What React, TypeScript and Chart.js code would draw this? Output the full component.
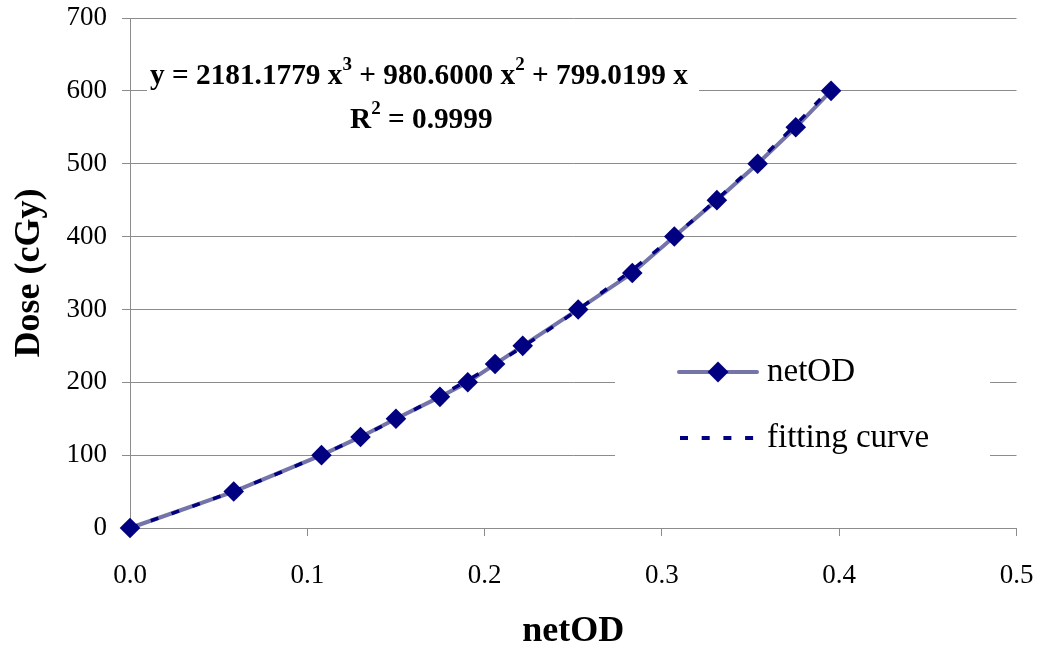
import React, { useEffect, useRef } from 'react';
import { Chart, registerables } from 'chart.js';

Chart.register(...registerables);

// ---- data ----
const netOD = [0, 0.0585, 0.108, 0.13, 0.15, 0.1748, 0.1905, 0.2059, 0.2215, 0.2528, 0.2833, 0.307, 0.331, 0.354, 0.3755, 0.3954];
const dose = [0, 50, 100, 125, 150, 180, 200, 225, 250, 300, 350, 400, 450, 500, 550, 600];
const fitDose = [0, 50.5, 100.5, 125.2, 149.3, 181.3, 202.9, 225.1, 248.8, 299.9, 354.7, 400.8, 451.0, 502.5, 553.8, 604.0];
const yTicks = [0, 100, 200, 300, 400, 500, 600, 700];
const xTicks = [0, 0.1, 0.2, 0.3, 0.4, 0.5];
const eqTerms = ['y = 2181.1779 x', '3', ' + 980.6000 x', '2', ' + 799.0199 x'];
const r2Terms = ['R', '2', ' = 0.9999'];
const legendLabels = ['netOD', 'fitting curve'];
const xTitle = 'netOD';
const yTitle = 'Dose (cGy)';

const SERIF = '"Liberation Serif", "Times New Roman", serif';
const NAVY = '#000080';
const LINE = '#7474aa';
const GRID = '#8c8c8c';

const zeroPad = (s: any) => {
  s.paddingTop = 0;
  s.paddingBottom = 0;
  s.paddingLeft = 0;
  s.paddingRight = 0;
};

export default function App() {
  const ref = useRef<HTMLCanvasElement>(null);

  useEffect(() => {
    document.body.style.margin = '0';
    const canvas = ref.current;
    if (!canvas) return;

    const overlay = {
      id: 'overlay',
      beforeDatasetsDraw(chart: any) {
        const ctx = chart.ctx as CanvasRenderingContext2D;
        ctx.save();
        // white boxes behind equation and legend
        ctx.fillStyle = '#ffffff';
        ctx.fillRect(147, 54, 552, 86);
        ctx.fillRect(615, 332, 375, 166);

        // equation
        ctx.fillStyle = '#000000';
        ctx.textAlign = 'left';
        ctx.textBaseline = 'alphabetic';
        const drawSeq = (parts: string[], x: number, y: number) => {
          let cx = x;
          parts.forEach((p, i) => {
            const sup = i % 2 === 1;
            ctx.font = sup ? `bold 19px ${SERIF}` : `bold 29.3px ${SERIF}`;
            ctx.fillText(p, cx, sup ? y - 14 : y);
            cx += ctx.measureText(p).width;
          });
        };
        drawSeq(eqTerms, 150, 84);
        drawSeq(r2Terms, 350, 128);

        // legend
        const y1 = 372;
        const y2 = 438;
        ctx.strokeStyle = LINE;
        ctx.lineWidth = 4;
        ctx.lineCap = 'round';
        ctx.beginPath();
        ctx.moveTo(679, y1);
        ctx.lineTo(757, y1);
        ctx.stroke();
        ctx.fillStyle = NAVY;
        ctx.beginPath();
        const r = 10.5;
        ctx.moveTo(718, y1 - r);
        ctx.lineTo(718 + r, y1);
        ctx.lineTo(718, y1 + r);
        ctx.lineTo(718 - r, y1);
        ctx.closePath();
        ctx.fill();

        ctx.strokeStyle = NAVY;
        ctx.lineCap = 'butt';
        ctx.setLineDash([8, 13.7]);
        ctx.beginPath();
        ctx.moveTo(680, y2);
        ctx.lineTo(756, y2);
        ctx.stroke();
        ctx.setLineDash([]);

        ctx.fillStyle = '#000000';
        ctx.font = `33px ${SERIF}`;
        ctx.textBaseline = 'middle';
        ctx.fillText(legendLabels[0], 767, y1);
        ctx.fillText(legendLabels[1], 767, y2);
        ctx.restore();
      },
    };

    const chart = new Chart(canvas, {
      type: 'scatter',
      data: {
        datasets: [
          {
            label: 'markers',
            data: netOD.map((x, i) => ({ x, y: dose[i] })),
            showLine: false,
            pointStyle: 'rectRot',
            pointRadius: 10.3,
            pointBackgroundColor: NAVY,
            pointBorderColor: NAVY,
            pointBorderWidth: 0,
            order: 1,
            clip: false,
          } as any,
          {
            label: legendLabels[1],
            data: netOD.map((x, i) => ({ x, y: fitDose[i] })),
            showLine: true,
            borderColor: NAVY,
            borderWidth: 3.5,
            borderDash: [8, 14],
            pointRadius: 0,
            cubicInterpolationMode: 'monotone',
            order: 2,
            clip: false,
          } as any,
          {
            label: legendLabels[0],
            data: netOD.map((x, i) => ({ x, y: dose[i] })),
            showLine: true,
            borderColor: LINE,
            borderWidth: 4,
            pointRadius: 0,
            order: 3,
            clip: false,
          } as any,
        ],
      },
      options: {
        responsive: false,
        animation: false,
        devicePixelRatio: 1,
        layout: { padding: { top: 18, right: 26.5, left: 0, bottom: 0 } },
        plugins: { legend: { display: false }, tooltip: { enabled: false } },
        scales: {
          x: {
            type: 'linear',
            min: 0,
            max: 0.5,
            afterBuildTicks: (s: any) => {
              s.ticks = xTicks.map((v) => ({ value: v }));
            },
            afterFit: (s: any) => {
              s.height = 125;
              zeroPad(s);
            },
            ticks: {
              callback: (v: any) => Number(v).toFixed(1),
              font: { family: SERIF, size: 27 },
              color: '#000000',
              padding: 24,
              maxRotation: 0,
            },
            grid: { drawOnChartArea: false, tickLength: 8, color: GRID, lineWidth: 1 },
            border: { color: GRID, width: 1 },
            title: {
              display: true,
              text: xTitle,
              font: { family: SERIF, size: 36, weight: 'bold' },
              color: '#000000',
              padding: { top: 0, bottom: 0 },
            },
          },
          y: {
            type: 'linear',
            min: 0,
            max: 700,
            afterBuildTicks: (s: any) => {
              s.ticks = yTicks.map((v) => ({ value: v }));
            },
            afterFit: (s: any) => {
              s.width = 130;
              zeroPad(s);
            },
            ticks: {
              font: { family: SERIF, size: 27 },
              color: '#000000',
              padding: 15,
            },
            grid: { tickLength: 8, color: GRID, lineWidth: 1 },
            border: { color: GRID, width: 1 },
            title: {
              display: true,
              text: yTitle,
              font: { family: SERIF, size: 36, weight: 'bold' },
              color: '#000000',
              padding: { top: 8, bottom: 0 },
            },
          },
        },
      } as any,
      plugins: [overlay],
    });

    return () => {
      chart.destroy();
    };
  }, []);

  return (
    <div style={{ position: 'absolute', left: 0, top: 0, width: 1043, height: 653, background: '#ffffff' }}>
      <canvas ref={ref} width={1043} height={653} style={{ display: 'block', width: 1043, height: 653 }} />
    </div>
  );
}
